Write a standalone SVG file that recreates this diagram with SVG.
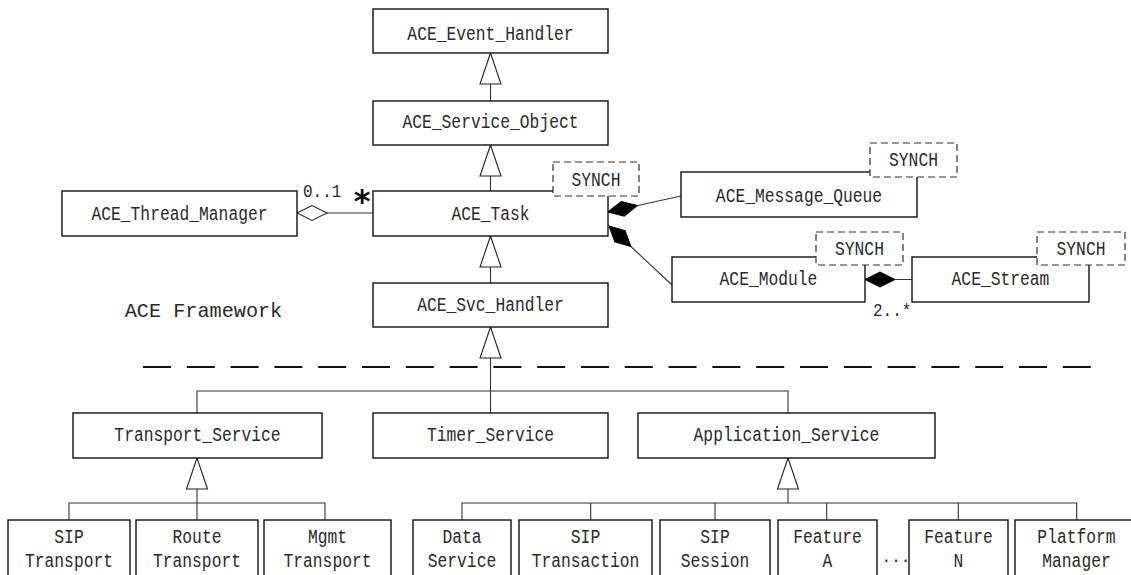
<svg xmlns="http://www.w3.org/2000/svg" width="1131" height="575" viewBox="0 0 1131 575">
  <style>
    .box { fill: #fff; stroke: #111; stroke-width: 1.4; }
    .synch { fill: #fff; stroke: #333; stroke-width: 1.2; stroke-dasharray: 7 4; }
    .conn { fill: none; stroke: #333; stroke-width: 1.1; }
    .sep { stroke: #111; stroke-width: 2.2; stroke-dasharray: 28 15.8; }
    .t { font-family: "Liberation Mono", "DejaVu Sans Mono", monospace; font-size: 16.3px; text-anchor: middle; fill: #2a2a2a; transform-box: fill-box; transform-origin: center; transform: scaleY(1.2); }
    .lbl { font-family: "Liberation Mono", "DejaVu Sans Mono", monospace; font-size: 16px; fill: #2a2a2a; transform-box: fill-box; transform-origin: center; transform: scaleY(1.2); }
    .title { font-family: "Liberation Mono", "DejaVu Sans Mono", monospace; font-size: 20.2px; fill: #2a2a2a; text-anchor: middle; }
    .star { font-family: "DejaVu Sans", sans-serif; font-size: 32px; font-weight: bold; fill: #111; text-anchor: middle; }
  </style>
  <defs>
    <marker id="tri" viewBox="0 0 33 24" refX="32" refY="12" markerWidth="33" markerHeight="24" markerUnits="userSpaceOnUse" orient="auto">
      <path d="M32,12 L1,1.5 L1,22.5 Z" fill="#fff" stroke="#222" stroke-width="1.1"/>
    </marker>
    <marker id="odia" viewBox="0 0 32 18" refX="1" refY="9" markerWidth="32" markerHeight="18" markerUnits="userSpaceOnUse" orient="auto">
      <path d="M1,9 L16,1.5 L31,9 L16,16.5 Z" fill="#fff" stroke="#222" stroke-width="1.1"/>
    </marker>
    <marker id="fdia" viewBox="0 0 32 18" refX="1" refY="9" markerWidth="32" markerHeight="18" markerUnits="userSpaceOnUse" orient="auto">
      <path d="M1,9 L16,1.5 L31,9 L16,16.5 Z" fill="#000" stroke="#000" stroke-width="1"/>
    </marker>
  </defs>

  <!-- connectors -->
  <g id="connectors">
    <line class="conn" x1="490.5" y1="101" x2="490.5" y2="53" marker-end="url(#tri)"/>
    <line class="conn" x1="490.5" y1="191" x2="490.5" y2="145" marker-end="url(#tri)"/>
    <line class="conn" x1="490.5" y1="283" x2="490.5" y2="236" marker-end="url(#tri)"/>
    <line class="conn" x1="490.5" y1="413" x2="490.5" y2="327" marker-end="url(#tri)"/>
    <polyline class="conn" points="197,413 197,391 788,391 788,413"/>
    <line class="conn" x1="197" y1="520" x2="197" y2="458" marker-end="url(#tri)"/>
    <polyline class="conn" points="69,520 69,503 325,503 325,520"/>
    <line class="conn" x1="788" y1="503" x2="788" y2="458" marker-end="url(#tri)"/>
    <polyline class="conn" points="462,520 462,503 1076.7,503 1076.7,520"/>
    <line class="conn" x1="590.7" y1="503" x2="590.7" y2="520"/>
    <line class="conn" x1="715" y1="503" x2="715" y2="520"/>
    <line class="conn" x1="826.7" y1="503" x2="826.7" y2="520"/>
    <line class="conn" x1="958.3" y1="503" x2="958.3" y2="520"/>
    <line class="conn" x1="297" y1="213" x2="373" y2="213" marker-start="url(#odia)"/>
    <line class="conn" x1="608" y1="212" x2="681" y2="196" marker-start="url(#fdia)"/>
    <line class="conn" x1="609" y1="226" x2="672" y2="285" marker-start="url(#fdia)"/>
    <line class="conn" x1="865" y1="279.5" x2="912" y2="279.5" marker-start="url(#fdia)"/>
    <text class="lbl" x="303" y="196">0..1</text>
    <text class="star" x="362" y="212">*</text>
    <text class="lbl" x="873" y="315">2..*</text>
  </g>

  <line id="separator" class="sep" x1="143" y1="367" x2="1092" y2="367"/>
  <text id="framework-label" class="title" x="203.5" y="316.5">ACE Framework</text>

  <g id="ACE_Event_Handler"><rect class="box" x="373" y="9" width="235" height="44"/><text class="t" x="490.5" y="39">ACE_Event_Handler</text></g>
  <g id="ACE_Service_Object"><rect class="box" x="373" y="101" width="235" height="44"/><text class="t" x="490.5" y="127">ACE_Service_Object</text></g>
  <g id="ACE_Task"><rect class="box" x="373" y="191" width="235" height="45"/><text class="t" x="490.5" y="219">ACE_Task</text>
    <rect class="synch" x="553" y="162" width="86" height="34"/><text class="t" x="596" y="185">SYNCH</text></g>
  <g id="ACE_Svc_Handler"><rect class="box" x="373" y="283" width="235" height="44"/><text class="t" x="490.5" y="310.5">ACE_Svc_Handler</text></g>
  <g id="ACE_Thread_Manager"><rect class="box" x="62" y="191" width="235" height="45"/><text class="t" x="179.5" y="219">ACE_Thread_Manager</text></g>
  <g id="ACE_Message_Queue"><rect class="box" x="681" y="172" width="236" height="45"/><text class="t" x="799" y="201">ACE_Message_Queue</text>
    <rect class="synch" x="870" y="143" width="87" height="34"/><text class="t" x="913.5" y="165">SYNCH</text></g>
  <g id="ACE_Module"><rect class="box" x="672" y="257" width="193" height="45"/><text class="t" x="768.5" y="284">ACE_Module</text>
    <rect class="synch" x="816" y="232" width="87" height="33"/><text class="t" x="859.5" y="254.5">SYNCH</text></g>
  <g id="ACE_Stream"><rect class="box" x="912" y="257" width="177" height="45"/><text class="t" x="1000.5" y="284">ACE_Stream</text>
    <rect class="synch" x="1037" y="232" width="88" height="33"/><text class="t" x="1081" y="254.5">SYNCH</text></g>

  <g id="Transport_Service"><rect class="box" x="73" y="413" width="249" height="45"/><text class="t" x="197.5" y="440">Transport_Service</text></g>
  <g id="Timer_Service"><rect class="box" x="373" y="413" width="235" height="45"/><text class="t" x="490.5" y="440">Timer_Service</text></g>
  <g id="Application_Service"><rect class="box" x="638" y="413" width="297" height="45"/><text class="t" x="786.5" y="440">Application_Service</text></g>

  <g id="SIP_Transport"><rect class="box" x="8" y="520" width="122" height="70"/><text class="t" x="69" y="542">SIP</text><text class="t" x="69" y="566">Transport</text></g>
  <g id="Route_Transport"><rect class="box" x="136" y="520" width="122" height="70"/><text class="t" x="197" y="542">Route</text><text class="t" x="197" y="566">Transport</text></g>
  <g id="Mgmt_Transport"><rect class="box" x="264" y="520" width="127" height="70"/><text class="t" x="327.5" y="542">Mgmt</text><text class="t" x="327.5" y="566">Transport</text></g>
  <g id="Data_Service"><rect class="box" x="413" y="520" width="98" height="70"/><text class="t" x="462" y="542">Data</text><text class="t" x="462" y="566">Service</text></g>
  <g id="SIP_Transaction"><rect class="box" x="519" y="520" width="133" height="70"/><text class="t" x="585.5" y="542">SIP</text><text class="t" x="585.5" y="566">Transaction</text></g>
  <g id="SIP_Session"><rect class="box" x="660" y="520" width="110" height="70"/><text class="t" x="715" y="542">SIP</text><text class="t" x="715" y="566">Session</text></g>
  <g id="Feature_A"><rect class="box" x="778" y="520" width="99" height="70"/><text class="t" x="827.5" y="542">Feature</text><text class="t" x="827.5" y="566">A</text></g>
  <text id="ellipsis" class="title" style="font-size:16px" x="896" y="562">...</text>
  <g id="Feature_N"><rect class="box" x="909" y="520" width="99" height="70"/><text class="t" x="958.5" y="542">Feature</text><text class="t" x="958.5" y="566">N</text></g>
  <g id="Platform_Manager"><rect class="box" x="1015" y="520" width="123" height="70"/><text class="t" x="1076.5" y="542">Platform</text><text class="t" x="1076.5" y="566">Manager</text></g>
</svg>
